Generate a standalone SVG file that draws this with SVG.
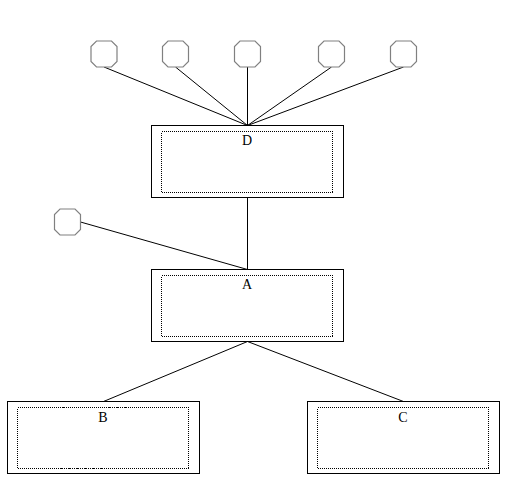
<svg xmlns="http://www.w3.org/2000/svg" xmlns:xlink="http://www.w3.org/1999/xlink" width="517" height="479" viewBox="0 0 517 479">
<style>
.outer{fill:#fff;stroke:#000;stroke-width:1;shape-rendering:crispEdges}
.inner{fill:none;stroke:#000;stroke-width:1;stroke-dasharray:1,1;shape-rendering:crispEdges}
.oct{fill:#fff;stroke:#808080;stroke-width:1.2}
.edge{stroke:#000;stroke-width:1;fill:none}
.lbl{font-family:"Liberation Serif","DejaVu Serif",serif;font-size:14px;text-anchor:middle;fill:#000}
</style>
<defs>
<polygon id="octagon" class="oct" points="-7.5,-13 7.5,-13 13,-7.5 13,7.5 7.5,13 -7.5,13 -13,7.5 -13,-7.5"/>
</defs>
<rect width="517" height="479" fill="#fff"/>
<g id="connectors">
<line class="edge" x1="104" y1="67" x2="247.5" y2="125.5"/>
<line class="edge" x1="175.5" y1="67" x2="247.5" y2="125.5"/>
<line class="edge" x1="247.5" y1="67" x2="247.5" y2="125.5"/>
<line class="edge" x1="331.5" y1="67" x2="247.5" y2="125.5"/>
<line class="edge" x1="403.5" y1="67" x2="247.5" y2="125.5"/>
<line class="edge" x1="247.5" y1="197.5" x2="247.5" y2="269.5"/>
<line class="edge" x1="80.5" y1="222" x2="247.5" y2="269.5"/>
<line class="edge" x1="247.5" y1="341.5" x2="103.5" y2="401.5"/>
<line class="edge" x1="247.5" y1="341.5" x2="403.5" y2="401.5"/>
</g>
<g id="o1"><use xlink:href="#octagon" transform="translate(104,54)"/></g>
<g id="o2"><use xlink:href="#octagon" transform="translate(175.5,54)"/></g>
<g id="o3"><use xlink:href="#octagon" transform="translate(247.5,54)"/></g>
<g id="o4"><use xlink:href="#octagon" transform="translate(331.5,54)"/></g>
<g id="o5"><use xlink:href="#octagon" transform="translate(403.5,54)"/></g>
<g id="o6"><use xlink:href="#octagon" transform="translate(67.5,222)"/></g>
<g id="D">
<rect class="outer" x="151.5" y="125.5" width="192" height="72"/>
<rect class="inner" x="161.5" y="131.5" width="171" height="61"/>
<text class="lbl" x="247" y="145">D</text>
</g>
<g id="A">
<rect class="outer" x="151.5" y="269.5" width="192" height="72"/>
<rect class="inner" x="161.5" y="275.5" width="171" height="61"/>
<text class="lbl" x="247" y="289">A</text>
</g>
<g id="B">
<rect class="outer" x="7.5" y="401.5" width="192" height="72"/>
<rect class="inner" x="17.5" y="407.5" width="171" height="61"/>
<text class="lbl" x="103" y="422">B</text>
</g>
<g id="C">
<rect class="outer" x="307.5" y="401.5" width="192" height="72"/>
<rect class="inner" x="317.5" y="407.5" width="171" height="61"/>
<text class="lbl" x="403" y="422">C</text>
</g>
</svg>
